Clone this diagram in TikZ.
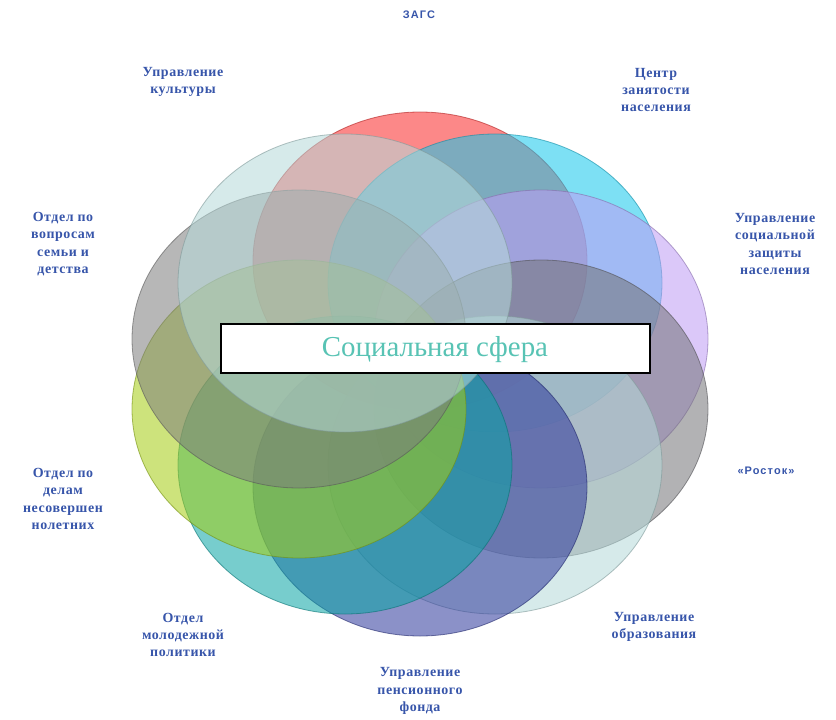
\documentclass[tikz,border=0pt]{standalone}
\usepackage{fontspec}
\setmainfont{Liberation Serif}
\newfontfamily\lblfont[LetterSpace=4]{Liberation Serif}
\newfontfamily\lblsans[LetterSpace=10]{Liberation Sans}
\definecolor{lbl}{RGB}{55,85,170}
\definecolor{ctxt}{RGB}{88,195,180}
\definecolor{cRed}{RGB}{250,40,40}
\definecolor{cCyan}{RGB}{20,200,236}
\definecolor{cLav}{RGB}{191,155,245}
\definecolor{cGrayR}{RGB}{115,115,120}
\definecolor{cLightBR}{RGB}{182,218,218}
\definecolor{cBlue}{RGB}{45,55,155}
\definecolor{cTeal}{RGB}{9,164,164}
\definecolor{cGreen}{RGB}{164,205,18}
\definecolor{cGrayL}{RGB}{125,125,125}
\definecolor{cLightTL}{RGB}{182,218,218}
\begin{document}
\begin{tikzpicture}[x=1bp,y=-1bp,
  blob/.style={fill=#1, fill opacity=0.55, draw=#1!70!black, draw opacity=0.6, line width=0.8bp},
  lab/.style={text=lbl, align=center, font=\lblfont\bfseries\fontsize{14}{17.5}\selectfont, inner sep=0pt},
  labs/.style={text=lbl, align=center, font=\lblsans\bfseries\fontsize{11}{13}\selectfont, inner sep=0pt},
  centerbox/.style={draw=black, line width=1.2bp, fill=white, minimum width=429bp, minimum height=49bp, inner sep=0pt}]
\useasboundingbox (0,0) rectangle (836,720);
\fill[white] (0,0) rectangle (836,720);
\def\rx{167}\def\ry{149}
\path[blob=cRed]     (420,261) ellipse [x radius=\rx, y radius=\ry];
\path[blob=cCyan]    (495,283) ellipse [x radius=\rx, y radius=\ry];
\path[blob=cLav]     (541,339) ellipse [x radius=\rx, y radius=\ry];
\path[blob=cGrayR]   (541,409) ellipse [x radius=\rx, y radius=\ry];
\path[blob=cLightBR] (495,465) ellipse [x radius=\rx, y radius=\ry];
\path[blob=cBlue]    (420,487) ellipse [x radius=\rx, y radius=\ry];
\path[blob=cTeal]    (345,465) ellipse [x radius=\rx, y radius=\ry];
\path[blob=cGreen]   (299,409) ellipse [x radius=\rx, y radius=\ry];
\path[blob=cGrayL]   (299,339) ellipse [x radius=\rx, y radius=\ry];
\path[blob=cLightTL] (345,283) ellipse [x radius=\rx, y radius=\ry];
\node[centerbox] (center) at (435.5,348.5) {};
\node[text=ctxt, font=\fontsize{29}{32}\selectfont, inner sep=0pt] (ctext) at (435,350) {Социальная сфера};
\node[labs] (zags) at (419,15) {ЗАГС};
\node[lab] (cz) at (656,90) {Центр\\занятости\\населения};
\node[lab] (uszn) at (775,244) {Управление\\социальной\\защиты\\населения};
\node[labs] (rostok) at (766,471) {«Росток»};
\node[lab] (uo) at (654,627) {Управление\\образования};
\node[lab] (upf) at (420,691) {Управление\\пенсионного\\фонда};
\node[lab] (omp) at (183,635) {Отдел\\молодежной\\политики};
\node[lab] (odn) at (63,499) {Отдел по\\делам\\несовершен\\нолетних};
\node[lab] (osd) at (63,244) {Отдел по\\вопросам\\семьи и\\детства};
\node[lab] (uk) at (183,82) {Управление\\культуры};
\end{tikzpicture}
\end{document}
